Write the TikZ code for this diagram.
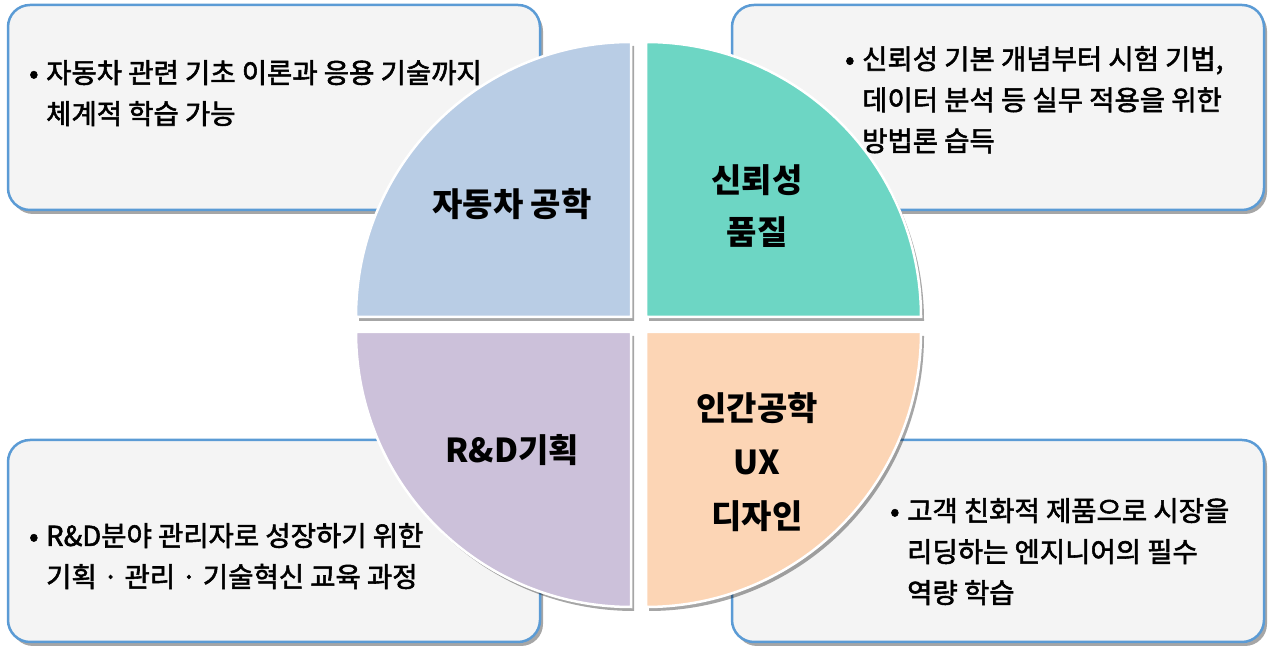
\documentclass[tikz,border=0pt]{standalone}
\usepackage{fontspec}
\setmainfont{Noto Sans CJK KR}[UprightFeatures={FakeBold=2}]
\usetikzlibrary{shadows}
\definecolor{bleuBord}{HTML}{5B9BD5}
\definecolor{grisFond}{HTML}{F4F4F4}
\definecolor{bleuQ}{HTML}{B9CDE5}
\definecolor{vertQ}{HTML}{6DD6C4}
\definecolor{mauveQ}{HTML}{CCC1DA}
\definecolor{pecheQ}{HTML}{FCD5B5}
\newcommand{\puce}{\makebox[17pt][l]{•}}
\newcommand{\retrait}{\hspace*{17pt}}

\begin{document}
\begin{tikzpicture}[x=1pt,y=1pt]
    % Styles
    \tikzstyle{ombre}=[drop shadow={shadow xshift=3pt,shadow yshift=-4pt,opacity=0.35,fill=black}]
    \tikzstyle{boite}=[draw=bleuBord,line width=2.5pt,fill=grisFond,rounded corners=22pt,minimum width=532pt,inner sep=0pt,ombre]
    \tikzstyle{quartier}=[draw=white,line width=2.5pt,ombre]
    \tikzstyle{texte}=[anchor=north west,align=left,inner sep=0pt,font=\fontsize{27.5}{41}\selectfont]
    \tikzstyle{titre}=[align=center,inner sep=0pt,font=\fontsize{33}{52}\selectfont\bfseries]
    % Dimensions
    \def\Rayon{275pt}
    \useasboundingbox (0,0) rectangle (1274,647);
    % Boites
    \node[boite,minimum height=205pt] (bHG) at (274,539.5) {};
    \node[boite,minimum height=205pt] (bHD) at (998,539.5) {};
    \node[boite,minimum height=202pt] (bBG) at (274,106) {};
    \node[boite,minimum height=202pt] (bBD) at (998,106) {};
    % Quartiers
    \draw[quartier,fill=bleuQ] (631,330) -- ++(-275,0) arc[start angle=180,end angle=90,radius=\Rayon] -- cycle;
    \draw[quartier,fill=vertQ] (646,330) -- ++(0,275) arc[start angle=90,end angle=0,radius=\Rayon] -- cycle;
    \draw[quartier,fill=mauveQ] (631,315) -- ++(0,-275) arc[start angle=270,end angle=180,radius=\Rayon] -- cycle;
    \draw[quartier,fill=pecheQ] (646,315) -- ++(275,0) arc[start angle=0,end angle=-90,radius=\Rayon] -- cycle;
    % Titres
    \node[titre] (qHG) at (512,443) {자동차 공학};
    \node[titre] (qHD) at (757,441) {신뢰성\\품질};
    \node[titre] (qBG) at (512,197) {R\&D기획};
    \node[titre,font=\fontsize{33}{54}\selectfont\bfseries] (qBD) at (757,185) {인간공학\\UX\\디자인};
    % Textes
    \node[texte] (tHG) at (29,587) {\puce 자동차 관련 기초 이론과 응용 기술까지\\\retrait 체계적 학습 가능};
    \node[texte] (tHD) at (845,601) {\puce 신뢰성 기본 개념부터 시험 기법,\\\retrait 데이터 분석 등 실무 적용을 위한\\\retrait 방법론 습득};
    \node[texte] (tBG) at (29,124) {\puce R\&D분야 관리자로 성장하기 위한\\\retrait 기획 · 관리 · 기술혁신 교육 과정};
    \node[texte] (tBD) at (890,149) {\puce 고객 친화적 제품으로 시장을\\\retrait 리딩하는 엔지니어의 필수\\\retrait 역량 학습};
\end{tikzpicture}
\end{document}
